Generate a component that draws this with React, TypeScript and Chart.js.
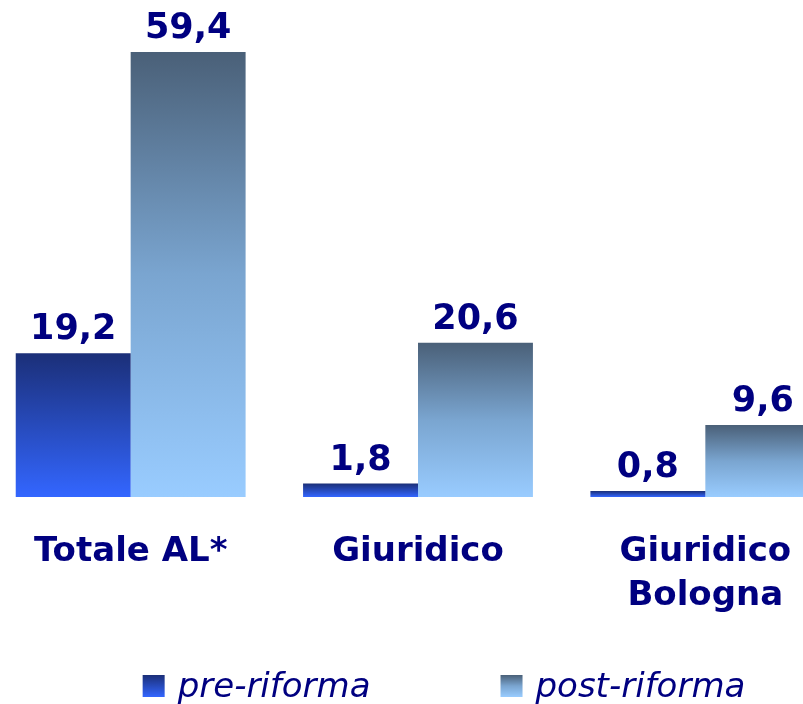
import React, { useEffect, useRef } from "react";
import { Chart, registerables } from "chart.js";

Chart.register(...registerables);

const categories: (string | string[])[] = ["Totale AL*", "Giuridico", ["Giuridico", "Bologna"]];
const seriesNames = ["pre-riforma", "post-riforma"];
const preRiforma = [19.2, 1.8, 0.8];
const postRiforma = [59.4, 20.6, 9.6];

const NAVY = "#000080";
const FONT = "'DejaVu Sans', Verdana, sans-serif";
const gradientStops: [number, string][][] = [
  [[0, "#1b2f78"], [1, "#3366ff"]],
  [[0, "#4a6078"], [0.5, "#7aa5d0"], [1, "#99ccff"]],
];

function makeGradient(ctx: CanvasRenderingContext2D, top: number, bottom: number, stops: [number, string][]) {
  const g = ctx.createLinearGradient(0, top, 0, bottom);
  stops.forEach(([o, c]) => g.addColorStop(o, c));
  return g;
}

const barFill = (dsIndex: number) => (c: any) => {
  const chart = c.chart;
  const stops = gradientStops[dsIndex];
  if (!chart.chartArea || c.type !== "data") return stops[stops.length - 1][1];
  const y = chart.scales.y;
  const top = y.getPixelForValue(c.raw);
  const bottom = y.getPixelForValue(0);
  return makeGradient(chart.ctx, top, bottom, stops);
};

const valueLabels = {
  id: "valueLabels",
  afterDatasetsDraw(chart: any) {
    const ctx = chart.ctx;
    ctx.save();
    ctx.font = `bold 35px ${FONT}`;
    ctx.fillStyle = NAVY;
    ctx.textAlign = "center";
    ctx.textBaseline = "alphabetic";
    chart.data.datasets.forEach((ds: any, i: number) => {
      const meta = chart.getDatasetMeta(i);
      meta.data.forEach((el: any, j: number) => {
        const v = ds.data[j] as number;
        ctx.fillText(v.toFixed(1).replace(".", ","), el.x, el.y - 14);
      });
    });
    ctx.restore();
  },
};

const customLegend = {
  id: "customLegend",
  afterDraw(chart: any) {
    const ctx = chart.ctx;
    const area = chart.chartArea;
    ctx.save();
    ctx.font = `italic 34px ${FONT}`;
    const box = 22;
    const gap = 13;
    const spacing = 130;
    const widths = seriesNames.map((n) => ctx.measureText(n).width);
    const total = widths.reduce((a, w) => a + box + gap + w, 0) + spacing;
    let x = (area.left + area.right) / 2 + 26 - total / 2;
    const baseline = area.bottom + 200;
    seriesNames.forEach((name, i) => {
      const top = baseline - box;
      ctx.fillStyle = makeGradient(ctx, top, top + box, gradientStops[i]);
      ctx.fillRect(x, top, box, box);
      ctx.fillStyle = NAVY;
      ctx.textAlign = "left";
      ctx.textBaseline = "alphabetic";
      ctx.fillText(name, x + box + gap, baseline);
      x += box + gap + widths[i] + spacing;
    });
    ctx.restore();
  },
};

export default function App() {
  const ref = useRef<HTMLCanvasElement | null>(null);
  useEffect(() => {
    if (!ref.current) return;
    const chart = new Chart(ref.current, {
      type: "bar",
      data: {
        labels: categories as any,
        datasets: [
          { label: seriesNames[0], data: preRiforma, backgroundColor: barFill(0) as any, borderWidth: 0 },
          { label: seriesNames[1], data: postRiforma, backgroundColor: barFill(1) as any, borderWidth: 0 },
        ],
      },
      options: {
        animation: false,
        responsive: true,
        maintainAspectRatio: false,
        layout: { padding: 0 },
        datasets: { bar: { categoryPercentage: 0.8, barPercentage: 1 } },
        plugins: { legend: { display: false }, tooltip: { enabled: false } },
        scales: {
          x: {
            grid: { display: false },
            border: { display: false },
            ticks: {
              color: NAVY,
              font: { family: FONT, size: 34, weight: "bold", lineHeight: 1.3 },
              padding: 25,
              maxRotation: 0,
              autoSkip: false,
            },
            afterFit: (scale: any) => {
              scale.height = 207;
            },
          },
          y: { display: false, min: 0, max: 66.35 },
        },
      },
      plugins: [valueLabels, customLegend],
    });
    return () => chart.destroy();
  }, []);
  return (
    <div style={{ position: "fixed", left: 0, top: 0, width: 803, height: 704, overflow: "hidden", background: "#fff" }}>
      <div style={{ position: "absolute", left: -13, top: 0, width: 862, height: 704 }}>
        <canvas ref={ref} />
      </div>
    </div>
  );
}
